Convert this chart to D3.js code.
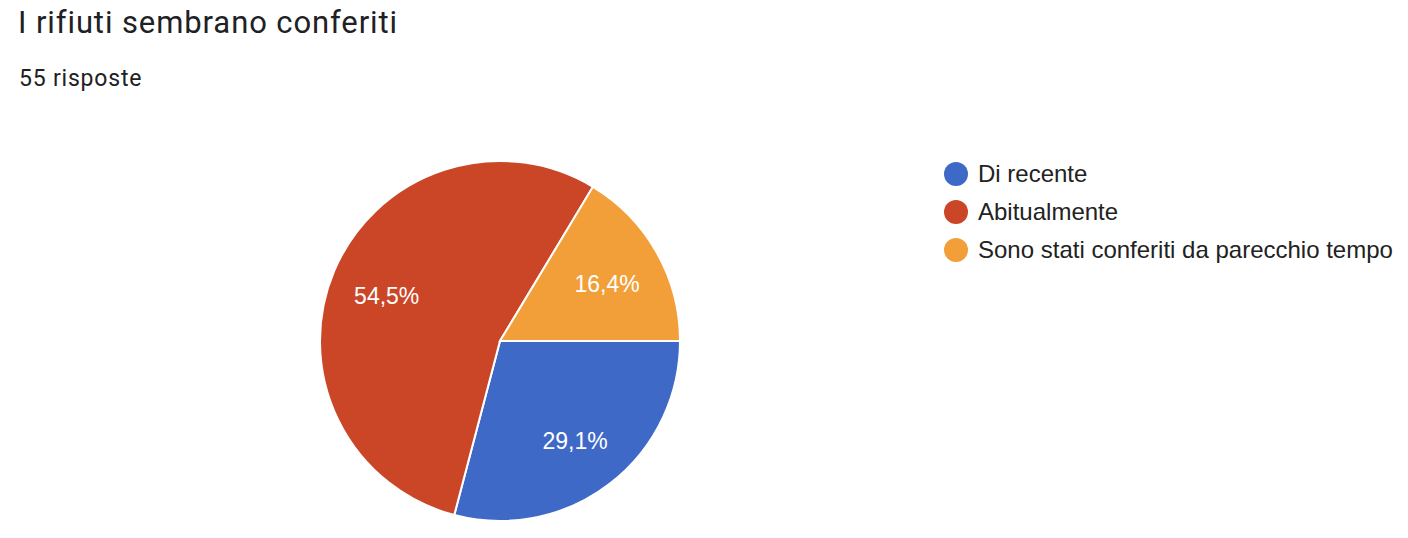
<!DOCTYPE html>
<html><head><meta charset="utf-8">
<script src="https://cdn.jsdelivr.net/npm/d3@7"></script>
<style>html,body{margin:0;padding:0;background:#fff;}</style>
</head><body>
<svg id="c" width="1408" height="538"></svg>
<script>
const title = "I rifiuti sembrano conferiti";
const subtitle = "55 risposte";
const categories = ["Di recente", "Abitualmente", "Sono stati conferiti da parecchio tempo"];
const counts = [16, 30, 9];
const labels = ["29,1%", "54,5%", "16,4%"];
const colors = ["#3e69c7", "#cb4627", "#f29f39"];

const svg = d3.select("#c");
svg.append("text").attr("x", 18).attr("y", 32.5)
  .attr("font-family", "Roboto, 'Open Sans', sans-serif").attr("font-size", 31)
  .attr("letter-spacing", 0.9)
  .attr("fill", "#202124").text(title);
svg.append("text").attr("x", 19).attr("y", 86)
  .attr("font-family", "Roboto, sans-serif").attr("font-size", 23)
  .attr("fill", "#202124").attr("letter-spacing", 0.8).text(subtitle);

const cx = 500, cy = 341, R = 180;
const pie = d3.pie().sort(null).value(d => d).startAngle(Math.PI / 2).endAngle(Math.PI / 2 + 2 * Math.PI);
const arcs = pie(counts);
const arc = d3.arc().innerRadius(0).outerRadius(R);
const labelArc = d3.arc().innerRadius(123).outerRadius(123);
const g = svg.append("g").attr("transform", `translate(${cx},${cy})`);
g.selectAll("path").data(arcs).join("path")
  .attr("d", arc).attr("fill", (d, i) => colors[i])
  .attr("stroke", "#fff").attr("stroke-width", 2);
g.selectAll("text").data(arcs).join("text")
  .attr("transform", d => { const c = labelArc.centroid(d); return `translate(${c[0]},${c[1] + 3})`; })
  .attr("text-anchor", "middle").attr("dominant-baseline", "central")
  .attr("font-family", "'Liberation Sans', Arial, sans-serif").attr("font-size", 23)
  .attr("fill", "#fff").text((d, i) => labels[i]);

const lg = svg.append("g");
const items = lg.selectAll("g").data(categories).join("g")
  .attr("transform", (d, i) => `translate(956,${174 + i * 38})`);
items.append("circle").attr("r", 12).attr("fill", (d, i) => colors[i]);
items.append("text").attr("x", 22).attr("y", -1).attr("dominant-baseline", "central")
  .attr("font-family", "'Liberation Sans', Arial, sans-serif").attr("font-size", 24)
  .attr("fill", "#222").text(d => d);
</script>
</body></html>
